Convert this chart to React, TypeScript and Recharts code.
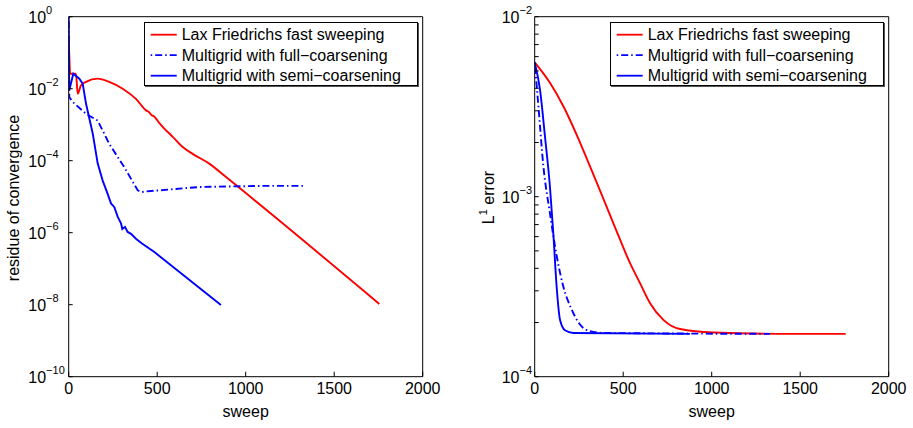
import React from 'react';
import { LineChart, Line, XAxis, YAxis, Legend } from 'recharts';

const FONT = '"Liberation Sans", Arial, Helvetica, sans-serif';

type Pt = [number, number];

// ---- tick values ----
const sweepTicks = [0, 500, 1000, 1500, 2000];
const residueTicks = [1e-10, 1e-8, 1e-6, 1e-4, 1e-2, 1];
const errorTicks = [1e-4, 1e-3, 1e-2];
const errorMinorTicks = [
  2e-4, 3e-4, 4e-4, 5e-4, 6e-4, 7e-4, 8e-4, 9e-4,
  2e-3, 3e-3, 4e-3, 5e-3, 6e-3, 7e-3, 8e-3, 9e-3,
];

// ---- series names / styles ----
const seriesNames = [
  'Lax Friedrichs fast sweeping',
  'Multigrid with full\u2212coarsening',
  'Multigrid with semi\u2212coarsening',
];
const seriesColors = ['#ff0000', '#0000ff', '#0000ff'];
const seriesDashes = [undefined, '1.5 3 7 3', undefined];

// ---- left panel: residue of convergence vs sweep ----
const residueLax: Pt[] = [
  [0, 0.2], [3, 0.093], [8, 0.026], [13, 0.026], [41, 0.026], [51, 0.0072],
  [69, 0.0123], [98, 0.0155], [164, 0.019], [229, 0.0155], [305, 0.01],
  [380, 0.0052], [437, 0.0025], [455, 0.0022], [470, 0.0018], [480, 0.00174],
  [493, 0.00148], [515, 0.00107], [540, 7.8e-4], [588, 4.6e-4], [644, 2.4e-4],
  [700, 1.55e-4], [794, 8.3e-5], [889, 3.5e-5], [1755, 1.05e-8],
];
const residueFull: Pt[] = [
  [0, 1.0], [3, 0.0059], [22, 0.0043], [98, 0.002], [164, 0.0013],
  [229, 2.95e-4], [314, 6.6e-5], [390, 1.5e-5], [412, 1.35e-5], [437, 1.4e-5],
  [738, 1.86e-5], [1115, 2.0e-5], [1326, 2.0e-5],
];
const residueSemi: Pt[] = [
  [0, 1.0], [3, 0.0089], [26, 0.026], [60, 0.019], [79, 0.0138], [98, 0.0038],
  [136, 5.6e-4], [164, 8.3e-5], [192, 2.8e-5], [220, 1.2e-5], [239, 6.5e-6],
  [258, 5.1e-6], [277, 2.75e-6], [296, 1.78e-6], [303, 1.26e-6], [318, 1.45e-6],
  [333, 1.05e-6], [352, 9.3e-7], [380, 6.8e-7], [412, 5.1e-7], [484, 2.9e-7],
  [860, 9.8e-9],
];

// ---- right panel: L1 error vs sweep ----
const errorLax: Pt[] = [
  [0, 5.57e-3], [86, 4.29e-3], [162, 3.18e-3], [256, 2.0e-3], [350, 1.2e-3],
  [444, 7.14e-4], [538, 4.29e-4], [595, 3.31e-4], [651, 2.57e-4], [727, 2.07e-4],
  [821, 1.84e-4], [1009, 1.76e-4], [1442, 1.73e-4], [1757, 1.73e-4],
];
const errorFull: Pt[] = [
  [0, 5.57e-3], [21, 3.18e-3], [49, 1.48e-3], [86, 8.1e-4], [124, 4.7e-4],
  [162, 3.16e-4], [209, 2.36e-4], [256, 1.95e-4], [312, 1.79e-4], [388, 1.75e-4],
  [1329, 1.73e-4],
];
const errorSemi: Pt[] = [
  [0, 5.57e-3], [30, 3.93e-3], [58, 2.16e-3], [86, 1.14e-3], [105, 6.3e-4],
  [124, 3.16e-4], [143, 2.07e-4], [171, 1.81e-4], [218, 1.75e-4], [877, 1.73e-4],
];

const toData = (pts: Pt[]) => pts.map(([x, y]) => ({ x, y }));

const isDecade = (v: number) => Math.abs(Math.log10(v) - Math.round(Math.log10(v))) < 1e-6;

function PowerTick(props: any) {
  const { x, y, payload } = props;
  if (!isDecade(payload.value)) return <g />;
  const exp = Math.round(Math.log10(payload.value));
  const sup = exp < 0 ? '\u2212' + String(-exp) : String(exp);
  return (
    <text x={x} y={y + 6} textAnchor="start" fill="#000" fontFamily={FONT} fontSize={16}>
      10
      <tspan dy={-8.5} fontSize={11}>{sup}</tspan>
    </text>
  );
}

function LegendBox() {
  return (
    <div
      style={{
        width: 274,
        height: 64,
        boxSizing: 'border-box',
        border: '1px solid #000',
        background: '#fff',
        boxShadow: '1px 1px 0 #555',
      }}
    >
      <svg width={272} height={62} style={{ display: 'block' }}>
        {seriesNames.map((name, i) => (
          <g key={name}>
            <line
              x1={5.7}
              x2={31.7}
              y1={11.7 + i * 20.5}
              y2={11.7 + i * 20.5}
              stroke={seriesColors[i]}
              strokeWidth={1.8}
              strokeDasharray={seriesDashes[i]}
            />
            <text x={36.7} y={17.4 + i * 20.5} fontFamily={FONT} fontSize={16} fill="#000">
              {name}
            </text>
          </g>
        ))}
      </svg>
    </div>
  );
}

const xTickStyle = { fill: '#000', fontSize: 16, fontFamily: FONT };

interface PanelProps {
  width: number;
  margin: { top: number; right: number; bottom: number; left: number };
  yDomain: [number, number];
  yTicks: number[];
  labelMargin: number;
  series: Pt[][];
  curveTypes: ('linear' | 'monotone')[];
  legendLeft: number;
}

function Panel({ width, margin, yDomain, yTicks, labelMargin, series, curveTypes, legendLeft }: PanelProps) {
  return (
    <LineChart width={width} height={428} margin={margin}>
      <XAxis
        xAxisId="main"
        type="number"
        dataKey="x"
        domain={[0, 2000]}
        ticks={sweepTicks}
        interval={0}
        height={1}
        tickSize={-5}
        tickMargin={11.3}
        tick={xTickStyle}
        stroke="#000"
        allowDataOverflow
      />
      <XAxis
        xAxisId="top"
        orientation="top"
        type="number"
        domain={[0, 2000]}
        ticks={sweepTicks}
        interval={0}
        height={1}
        tickSize={-5}
        tick={false}
        stroke="#000"
        allowDataOverflow
      />
      <YAxis
        yAxisId="main"
        type="number"
        scale="log"
        domain={yDomain}
        ticks={yTicks}
        interval={0}
        width={1}
        tickSize={-4}
        tickMargin={labelMargin}
        tick={<PowerTick />}
        stroke="#000"
        allowDataOverflow
      />
      <YAxis
        yAxisId="right"
        orientation="right"
        type="number"
        scale="log"
        domain={yDomain}
        ticks={yTicks}
        interval={0}
        width={1}
        tickSize={-4}
        tick={false}
        stroke="#000"
        allowDataOverflow
      />
      {series.map((pts, i) => (
        <Line
          key={seriesNames[i]}
          xAxisId="main"
          yAxisId="main"
          name={seriesNames[i]}
          data={toData(pts)}
          dataKey="y"
          type={curveTypes[i]}
          stroke={seriesColors[i]}
          strokeWidth={1.9}
          strokeDasharray={seriesDashes[i]}
          dot={false}
          activeDot={false}
          isAnimationActive={false}
        />
      ))}
      <Legend
        layout="vertical"
        align="center"
        verticalAlign="middle"
        content={() => <LegendBox />}
        wrapperStyle={{ left: legendLeft, top: 22, width: 274, height: 64 }}
      />
    </LineChart>
  );
}

export default function App() {
  return (
    <div
      style={{
        position: 'absolute',
        left: 0,
        top: 0,
        width: 913,
        height: 428,
        background: '#fff',
        fontFamily: FONT,
        overflow: 'hidden',
      }}
    >
      <div style={{ position: 'absolute', left: 0, top: 0 }}>
        <Panel
          width={460}
          margin={{ top: 15.7, right: 36.3, bottom: 50.3, left: 67.7 }}
          yDomain={[1e-10, 1]}
          yTicks={residueTicks}
          labelMargin={44.4}
          series={[residueLax, residueFull, residueSemi]}
          curveTypes={['monotone', 'linear', 'linear']}
          legendLeft={144}
        />
      </div>
      <div style={{ position: 'absolute', left: 460, top: 0 }}>
        <Panel
          width={453}
          margin={{ top: 15.7, right: 23.3, bottom: 50.3, left: 73.7 }}
          yDomain={[1e-4, 1e-2]}
          yTicks={[...errorTicks, ...errorMinorTicks]}
          labelMargin={37}
          series={[errorLax, errorFull, errorSemi]}
          curveTypes={['monotone', 'monotone', 'monotone']}
          legendLeft={150}
        />
      </div>
      <svg
        width={913}
        height={428}
        style={{ position: 'absolute', left: 0, top: 0, pointerEvents: 'none' }}
        fontFamily={FONT}
        fontSize={16}
        fill="#000"
      >
        <text x={245.7} y={417} textAnchor="middle">sweep</text>
        <text x={711.7} y={417} textAnchor="middle">sweep</text>
        <text x={19} y={198} textAnchor="middle" transform="rotate(-90 19 198)">
          residue of convergence
        </text>
        <text x={494} y={197.5} textAnchor="middle" transform="rotate(-90 494 197.5)">
          L<tspan dy={-7} fontSize={11}>1</tspan>
          <tspan dy={7}> error</tspan>
        </text>
      </svg>
    </div>
  );
}
